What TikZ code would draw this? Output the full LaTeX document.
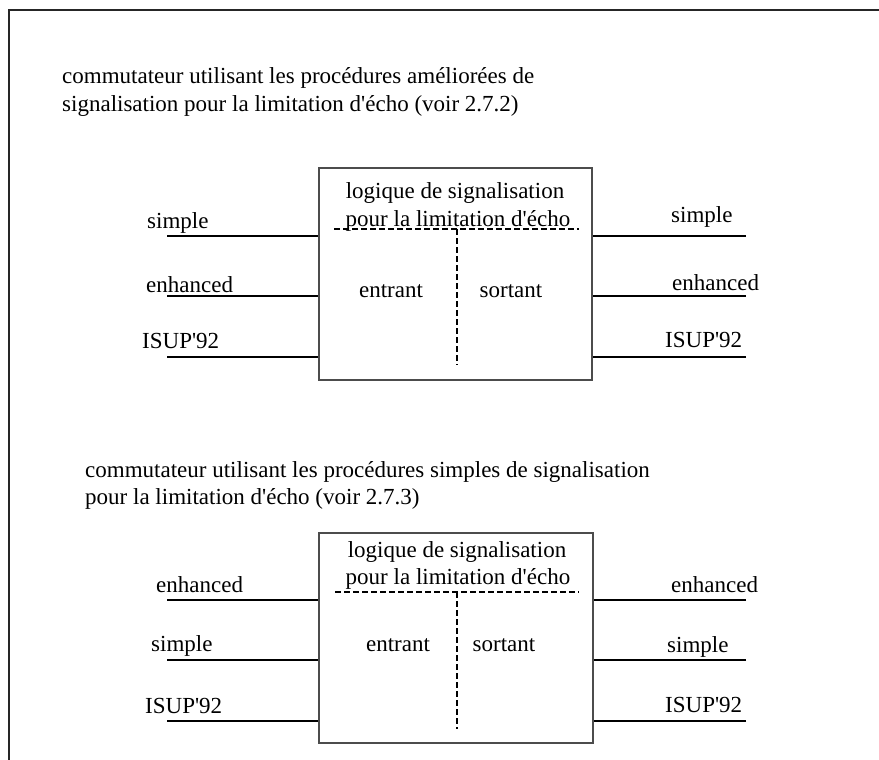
\documentclass[tikz,border=0pt]{standalone}
\usepackage{fontspec}
\setmainfont{Liberation Serif}
\newcommand\apos{\textquotesingle}
\begin{document}
\begin{tikzpicture}[x=1pt,y=-1pt,
  txt/.style={inner sep=0pt,font=\fontsize{23}{28}\selectfont},
  lbl/.style={txt,anchor=base west},
  ctr/.style={txt,anchor=base},
  blk/.style={draw=black!70,line width=1.4pt,inner sep=0pt},
  wire/.style={line width=2pt,black},
  dsh/.style={line width=1.3pt,dash pattern=on 6pt off 3pt},
  frame/.style={line width=1.5pt,black!85}]
\useasboundingbox (0,0) rectangle (879,760);
% outer frame
\coordinate (f1) at (9,760);
\coordinate (f2) at (9,10);
\coordinate (f3) at (879,10);
\draw[frame] (f1) -- (f2) -- (f3);

% ---------- top section ----------
\node[lbl] (t1a) at (62,84) {commutateur utilisant les procédures améliorées de};
\node[lbl] (t1b) at (62,112) {signalisation pour la limitation d\apos écho (voir 2.7.2)};

\node[blk,minimum width=273pt,minimum height=212pt] (box1) at (455.5,274) {};
\node[ctr] (g1a) at (455,198) {logique de signalisation};
\node[ctr] (g1b) at (458,226) {pour la limitation d\apos écho};
\node[ctr] (e1) at (391,297) {entrant};
\node[ctr] (s1) at (511,297) {sortant};

\coordinate (d1a) at (334,229);
\coordinate (d1b) at (579,229);
\coordinate (d1c) at (457,229);
\coordinate (d1d) at (457,365);
\draw[dsh] (d1a) -- (d1b);
\draw[dsh] (d1c) -- (d1d);

\coordinate (la1) at (167,236);
\coordinate (la2) at (167,296);
\coordinate (la3) at (167,357);
\coordinate (ra1) at (746,236);
\coordinate (ra2) at (746,296);
\coordinate (ra3) at (746,357);
\foreach \c in {la1,la2,la3} \draw[wire] (\c) -- (\c -| box1.west);
\foreach \c in {ra1,ra2,ra3} \draw[wire] (\c) -- (\c -| box1.east);

\node[lbl] (l1a) at (147,228) {simple};
\node[lbl] (l1b) at (146,292) {enhanced};
\node[lbl] (l1c) at (142,348) {ISUP\apos 92};
\node[lbl] (r1a) at (671,222) {simple};
\node[lbl] (r1b) at (672,290) {enhanced};
\node[lbl] (r1c) at (665,347) {ISUP\apos 92};

% ---------- bottom section ----------
\node[lbl] (t2a) at (85,477) {commutateur utilisant les procédures simples de signalisation};
\node[lbl] (t2b) at (85,504) {pour la limitation d\apos écho (voir 2.7.3)};

\node[blk,minimum width=274pt,minimum height=210pt] (box2) at (456,638) {};
\node[ctr] (g2a) at (457,557) {logique de signalisation};
\node[ctr] (g2b) at (458,584) {pour la limitation d\apos écho};
\node[ctr] (e2) at (398,651) {entrant};
\node[ctr] (s2) at (504,651) {sortant};

\coordinate (d2a) at (335,592);
\coordinate (d2b) at (579,592);
\coordinate (d2c) at (457,592);
\coordinate (d2d) at (457,729);
\draw[dsh] (d2a) -- (d2b);
\draw[dsh] (d2c) -- (d2d);

\coordinate (lb1) at (167,600);
\coordinate (lb2) at (167,660);
\coordinate (lb3) at (167,721);
\coordinate (rb1) at (746,600);
\coordinate (rb2) at (746,660);
\coordinate (rb3) at (746,721);
\foreach \c in {lb1,lb2,lb3} \draw[wire] (\c) -- (\c -| box2.west);
\foreach \c in {rb1,rb2,rb3} \draw[wire] (\c) -- (\c -| box2.east);

\node[lbl] (l2a) at (156,592) {enhanced};
\node[lbl] (l2b) at (151,651) {simple};
\node[lbl] (l2c) at (145,713) {ISUP\apos 92};
\node[lbl] (r2a) at (671,592) {enhanced};
\node[lbl] (r2b) at (667,652) {simple};
\node[lbl] (r2c) at (665,712) {ISUP\apos 92};
\end{tikzpicture}
\end{document}
